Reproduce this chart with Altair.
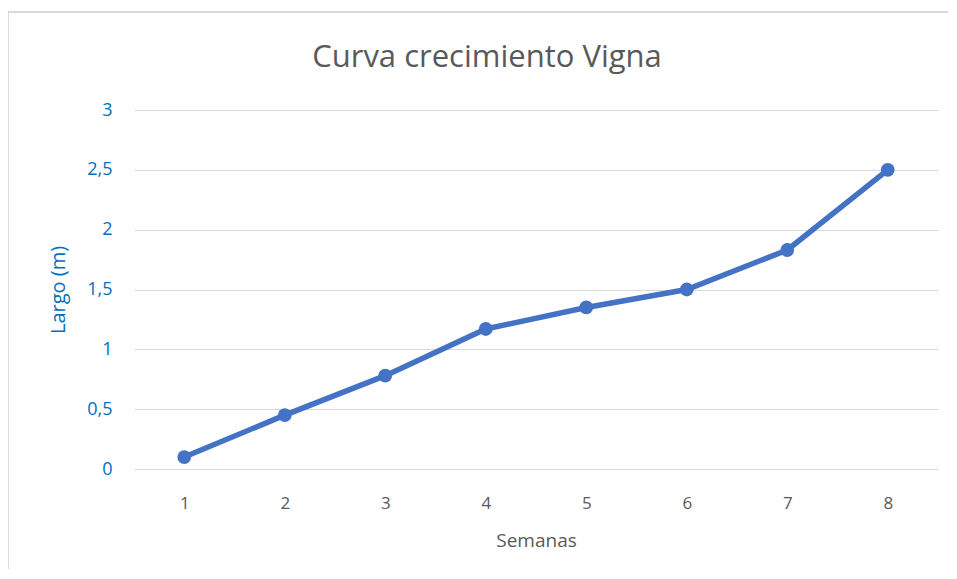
import altair as alt
import pandas as pd

semanas = [1, 2, 3, 4, 5, 6, 7, 8]
largo = [0.10, 0.45, 0.78, 1.17, 1.35, 1.50, 1.83, 2.50]
titulo = ["Curva crecimiento Vigna"]

df = pd.DataFrame({"Semanas": semanas, "Largo": largo})

FONT = "Open Sans"
BLUE = "#4472C4"

base = alt.Chart(df)

line = base.mark_line(color=BLUE, strokeWidth=5.5, strokeCap="round").encode(
    x=alt.X("Semanas:O",
            scale=alt.Scale(paddingInner=1, paddingOuter=0.5),
            axis=alt.Axis(title="Semanas", labelAngle=0, ticks=False, domain=False,
                          grid=False, labelColor="#595959", labelFont=FONT,
                          labelFontSize=17, labelPadding=26, titleColor="#595959",
                          titleFont=FONT, titleFontSize=19, titleFontWeight="normal",
                          titlePadding=20)),
    y=alt.Y("Largo:Q",
            scale=alt.Scale(domain=[0, 3]),
            axis=alt.Axis(title="Largo (m)", values=[0, 0.5, 1, 1.5, 2, 2.5, 3],
                          labelExpr="replace(toString(datum.value), '.', ',')",
                          ticks=False, domain=False, gridColor="#d9d9d9",
                          gridWidth=1.2, labelColor="#0070C0", labelFont=FONT,
                          labelFontSize=18, labelPadding=22, titleColor="#0070C0",
                          titleFont=FONT, titleFontSize=20, titleFontWeight="normal",
                          titlePadding=18)),
)

points = base.mark_circle(color=BLUE, size=190, opacity=1).encode(
    x="Semanas:O", y="Largo:Q"
)

title = alt.Chart(pd.DataFrame({"t": titulo})).mark_text(
    font=FONT, fontSize=31, color="#595959", align="center", baseline="alphabetic"
).encode(text="t:N", x=alt.value(353), y=alt.value(-43))

border_left = alt.Chart(df).mark_rule(color="#d9d9d9", strokeWidth=1.5).encode(
    x=alt.value(-126), y=alt.value(-98), y2=alt.value(480)
)
border_top = alt.Chart(df).mark_rule(color="#d9d9d9", strokeWidth=1.5).encode(
    x=alt.value(-126), x2=alt.value(840), y=alt.value(-98)
)

chart = alt.layer(border_left, border_top, title, line, points).properties(
    width=804,
    height=359,
    autosize=alt.AutoSizeParams(type="none"),
    padding={"left": 126, "top": 102, "right": 10, "bottom": 100},
).configure_view(stroke=None)

chart.save("out.html", embed_options={"renderer": "svg", "actions": False})
